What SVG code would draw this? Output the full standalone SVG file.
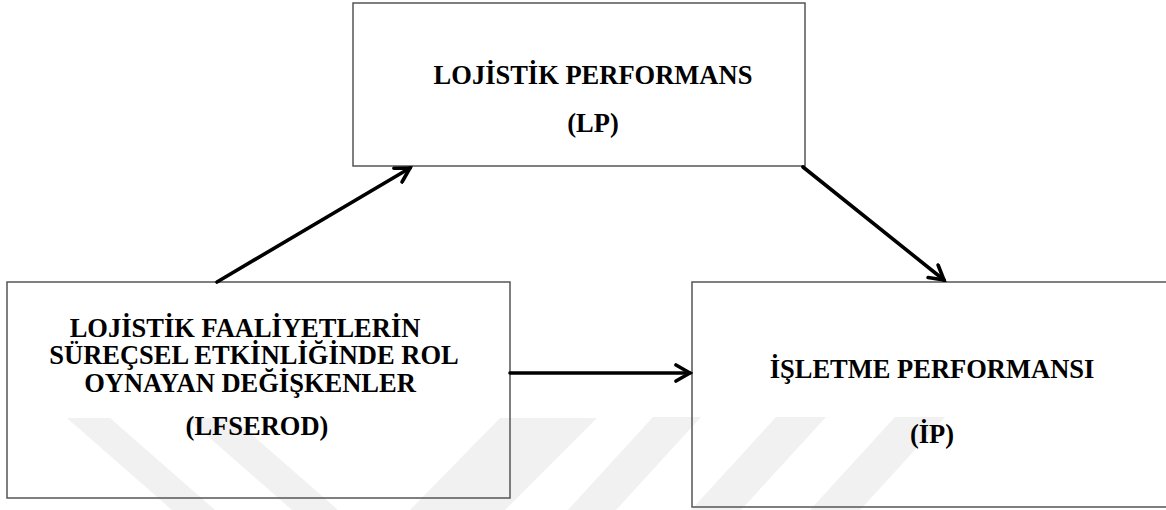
<svg xmlns="http://www.w3.org/2000/svg" width="1166" height="510" viewBox="0 0 1166 510">
  <style>
    .box { fill: none; stroke: #555; stroke-width: 1.5; }
    .lbl { font-family: "Liberation Serif", "Times New Roman", serif; font-weight: bold; font-size: 26.5px; fill: #000; text-anchor: middle; }
    .edge { stroke: #000; stroke-width: 3.6; fill: none; stroke-linecap: round; marker-end: url(#chev); }
    .wm { fill: #f1f1f1; }
  </style>
  <defs>
    <marker id="chev" viewBox="0 0 20 20" refX="17" refY="10" markerWidth="20" markerHeight="20" markerUnits="userSpaceOnUse" orient="auto">
      <path d="M3,2 L17,10 L3,18" fill="none" stroke="#000" stroke-width="3.6" stroke-linecap="round" stroke-linejoin="miter"/>
    </marker>
  </defs>
  <rect width="1166" height="510" fill="#fff"/>

  <!-- faint background stripes -->
  <g id="watermark">
    <polygon class="wm" points="67,418 110,418 215,510 172,510"/>
    <polygon class="wm" points="187,418 233,418 338,510 292,510"/>
    <polygon class="wm" points="500,418 597,418 505,510 410,510"/>
    <polygon class="wm" points="653,417 701,417 616,510 568,510"/>
    <polygon class="wm" points="776,417 826,417 741,510 691,510"/>
    <polygon class="wm" points="895,417 945,417 860,510 810,510"/>
  </g>

  <g id="node-lp">
    <rect class="box" x="353" y="3" width="452" height="163"/>
    <text class="lbl" x="593" y="84">LOJİSTİK PERFORMANS</text>
    <text class="lbl" x="593" y="132">(LP)</text>
  </g>

  <g id="node-lfserod">
    <rect class="box" x="7" y="282" width="503" height="216"/>
    <text class="lbl" x="245" y="337">LOJİSTİK FAALİYETLERİN</text>
    <text class="lbl" x="254" y="364">SÜREÇSEL ETKİNLİĞİNDE ROL</text>
    <text class="lbl" x="250" y="392">OYNAYAN DEĞİŞKENLER</text>
    <text class="lbl" x="257" y="435">(LFSEROD)</text>
  </g>

  <g id="node-ip">
    <rect class="box" x="692" y="282" width="480" height="225"/>
    <text class="lbl" x="932" y="378">İŞLETME PERFORMANSI</text>
    <text class="lbl" x="932" y="443">(İP)</text>
  </g>

  <g id="connectors">
    <line class="edge" x1="217" y1="282" x2="410" y2="168"/>
    <line class="edge" x1="510" y1="373" x2="690" y2="373"/>
    <line class="edge" x1="803" y1="167" x2="944" y2="280"/>
  </g>
</svg>
